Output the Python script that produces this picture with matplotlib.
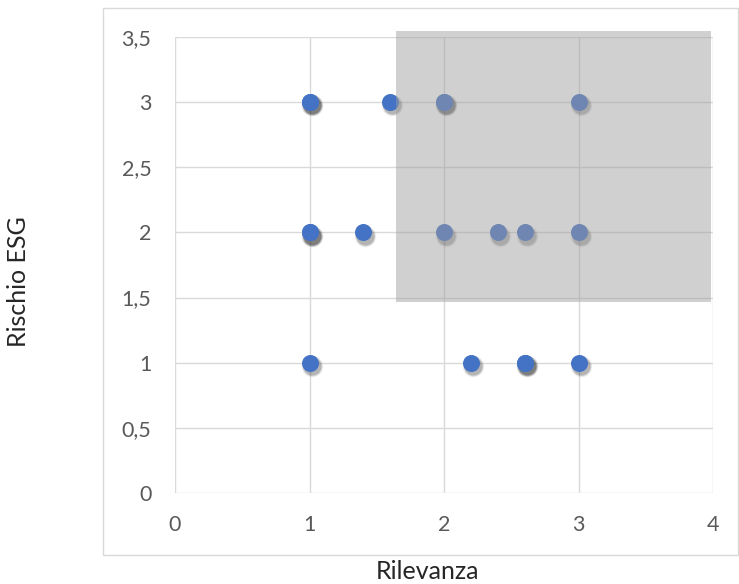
import matplotlib.pyplot as plt
import matplotlib.transforms as mtransforms
from matplotlib.patches import Rectangle
from matplotlib.ticker import FuncFormatter

# dati (punti sovrapposti ripetuti)
rilevanza = [1, 1, 1.6, 2, 2, 3, 1, 1, 1.4, 2, 2.4, 2.6, 3, 1, 2.2, 2.6, 2.6, 3]
rischio = [3, 3, 3, 3, 3, 3, 2, 2, 2, 2, 2, 2, 2, 1, 1, 1, 1, 1]
x_ticks = [0, 1, 2, 3, 4]
y_ticks = [0, 0.5, 1, 1.5, 2, 2.5, 3, 3.5]

plt.rcParams["font.family"] = ["Lato", "DejaVu Sans"]

fig = plt.figure(figsize=(7.39, 5.84), dpi=100)
ax = fig.add_axes([175 / 739, 1 - 493 / 584, (713 - 175) / 739, (493 - 37) / 584])

# bordo del grafico
fig.patches.append(Rectangle((103 / 739, 1 - 555 / 584), (738 - 103) / 739, (555 - 8) / 584,
                             transform=fig.transFigure, fill=False, edgecolor="#d9d9d9", lw=1))

# ombra sfumata dei marker
for grow, a in [(1.6, 0.06), (1.35, 0.10), (1.12, 0.16)]:
    tr = mtransforms.offset_copy(ax.transData, fig=fig, x=1.5, y=-2.4, units="points")
    ax.scatter(rilevanza, rischio, s=150 * grow, color="black", alpha=a, lw=0, transform=tr, zorder=3)
ax.scatter(rilevanza, rischio, s=150, color="#4472c4", lw=0, zorder=4)

# area evidenziata
ax.add_patch(Rectangle((1.643, 1.466), 2.342, 2.08, facecolor="#9d9d9d", alpha=0.48,
                       lw=0, zorder=5, clip_on=False))

ax.set_xlim(0, 4)
ax.set_ylim(0, 3.5)
ax.set_xticks(x_ticks)
ax.set_yticks(y_ticks)
fmt = FuncFormatter(lambda v, p: ("%g" % v).replace(".", ","))
ax.xaxis.set_major_formatter(fmt)
ax.yaxis.set_major_formatter(fmt)
ax.grid(True, color="#d9d9d9", lw=1, zorder=0)
ax.set_axisbelow(True)
for s in ax.spines.values():
    s.set_visible(False)
ax.tick_params(length=0, labelsize=15.5, colors="#595959", pad=16)
ax.tick_params(axis="y", pad=17)

fig.text(428 / 739, 1 - 583 / 584, "Rilevanza", ha="center", va="bottom", fontsize=18, color="#262626")
fig.text(19 / 739, 1 - 282 / 584, "Rischio ESG", ha="center", va="center", rotation=90,
         fontsize=18, color="#262626")

fig.savefig("out.png", dpi=100)
